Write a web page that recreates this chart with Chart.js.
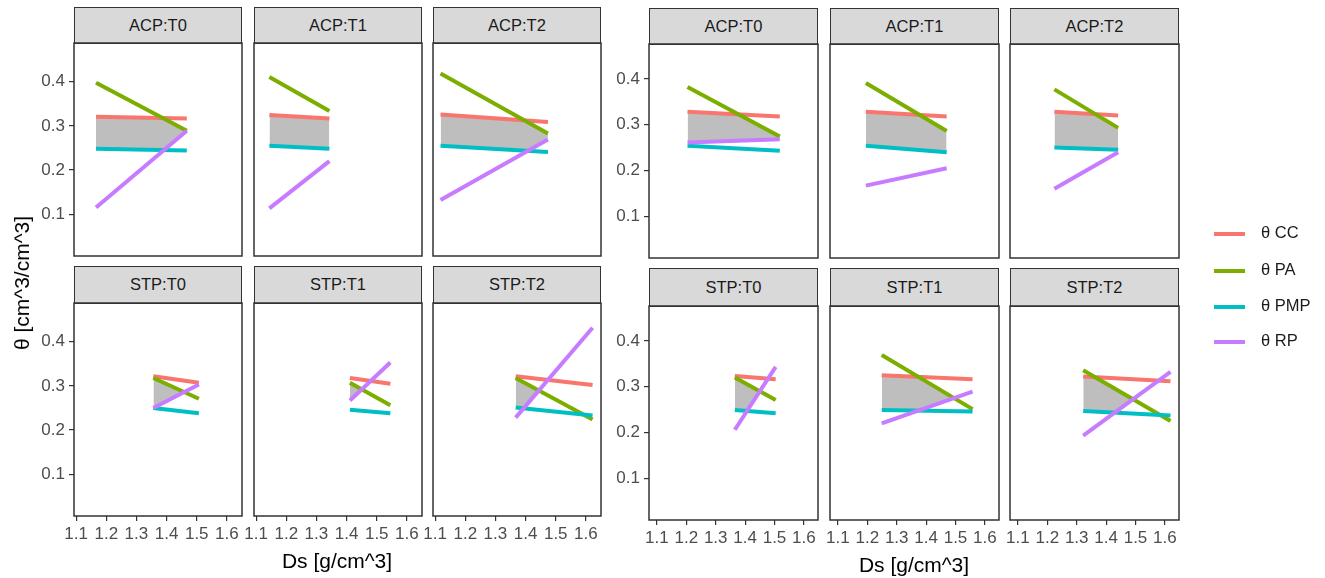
<!DOCTYPE html>
<html>
<head>
<meta charset="utf-8">
<script src="https://cdn.jsdelivr.net/npm/chart.js@4.4.1/dist/chart.umd.min.js"></script>
<style>
    body { margin: 0; background: #fff; font-family: "Liberation Sans", Arial, sans-serif; }
    #fig { position: relative; width: 1325px; height: 578px; overflow: hidden; }
    .strip { position: absolute; box-sizing: border-box; background: #d9d9d9; border: 1.5px solid #333;
             color: #1a1a1a; font-size: 16.5px; text-align: center; }
    canvas { position: absolute; }
    .axtitle { position: absolute; font-size: 21px; color: #000; white-space: nowrap; transform: translate(-50%, -50%); }
    .key { position: absolute; left: 1214px; font-size: 16.5px; color: #1a1a1a; white-space: nowrap; }
    .key span { display: inline-block; width: 31px; height: 4px; vertical-align: middle; margin-right: 16px; }
</style>
</head>
<body>
<div id="fig"></div>
<script>
// facets and series
var facets = ['ACP:T0', 'ACP:T1', 'ACP:T2', 'STP:T0', 'STP:T1', 'STP:T2'];
var seriesNames = ['θ CC', 'θ PA', 'θ PMP', 'θ RP'];
var seriesColors = ['#F8766D', '#7CAE00', '#00BFC4', '#C77CFF'];
var xTicks = [1.1, 1.2, 1.3, 1.4, 1.5, 1.6];
var yTicks = [0.1, 0.2, 0.3, 0.4];

// left block: Ds range of each facet and [start, end] theta of each series
var dsFromL = [1.166, 1.144, 1.118, 1.356, 1.411, 1.367];
var dsToL   = [1.467, 1.343, 1.474, 1.507, 1.545, 1.622];
var ccL  = [[0.321, 0.317], [0.325, 0.317], [0.326, 0.309], [0.322, 0.307], [0.318, 0.305], [0.322, 0.302]];
var paL  = [[0.398, 0.289], [0.411, 0.334], [0.419, 0.283], [0.318, 0.271], [0.307, 0.256], [0.318, 0.224]];
var pmpL = [[0.248, 0.244], [0.255, 0.248], [0.255, 0.241], [0.250, 0.238], [0.246, 0.238], [0.251, 0.233]];
var rpL  = [[0.115, 0.289], [0.113, 0.220], [0.132, 0.269], [0.250, 0.303], [0.267, 0.353], [0.228, 0.432]];

// right block
var dsFromR = [1.204, 1.195, 1.224, 1.365, 1.249, 1.322];
var dsToR   = [1.518, 1.470, 1.441, 1.504, 1.558, 1.619];
var ccR  = [[0.328, 0.318], [0.328, 0.318], [0.328, 0.320], [0.323, 0.316], [0.325, 0.316], [0.322, 0.312]];
var paR  = [[0.382, 0.274], [0.391, 0.286], [0.377, 0.293], [0.320, 0.271], [0.369, 0.251], [0.336, 0.225]];
var pmpR = [[0.254, 0.243], [0.254, 0.240], [0.250, 0.245], [0.249, 0.242], [0.249, 0.246], [0.247, 0.237]];
var rpR  = [[0.261, 0.268], [0.167, 0.205], [0.160, 0.240], [0.206, 0.343], [0.220, 0.289], [0.193, 0.332]];

var blocks = [
    {from: dsFromL, to: dsToL, cc: ccL, pa: paL, pmp: pmpL, rp: rpL, xMin: 1.093, xMax: 1.650, yMin: 0.005, yMax: 0.488,
     cols: [74, 254, 433], width: 168, strip: [7, 266], top: [43, 303], bottom: [256, 514]},
    {from: dsFromR, to: dsToR, cc: ccR, pa: paR, pmp: pmpR, rp: rpR, xMin: 1.073, xMax: 1.648, yMin: 0.009, yMax: 0.476,
     cols: [649, 830, 1010], width: 169, strip: [8, 268], top: [44, 306], bottom: [258, 518]}
];

var fig = document.getElementById('fig');
var SIDE = 55, AXH = 45, PAD = 2;

var panelBorder = {
    id: 'panelBorder',
    afterDraw: function (chart) {
        var a = chart.chartArea, c = chart.ctx;
        c.save();
        c.strokeStyle = '#333';
        c.lineWidth = 1.5;
        c.strokeRect(a.left, a.top, a.right - a.left, a.bottom - a.top);
        c.restore();
    }
};

function at(pair, t) {
    return pair[0] + (pair[1] - pair[0]) * t;
}

// least limiting range: between max(PMP, RP) and min(CC, PA)
function ribbon(x0, x1, cc, pa, pmp, rp) {
    var lines = [cc, pa, pmp, rp];
    var ts = [0, 1];
    for (var i = 0; i < 4; i++) {
        for (var j = i + 1; j < 4; j++) {
            var d0 = lines[i][0] - lines[j][0], d1 = lines[i][1] - lines[j][1];
            if (d0 * d1 < 0) ts.push(d0 / (d0 - d1));
        }
    }
    ts.sort(function (a, b) { return a - b; });
    var upper = [], lower = [];
    ts.forEach(function (t) {
        var x = x0 + (x1 - x0) * t;
        upper.push({x: x, y: Math.min(at(cc, t), at(pa, t))});
        lower.push({x: x, y: Math.max(at(pmp, t), at(rp, t))});
    });
    return {upper: upper, lower: lower};
}

function seg(x0, x1, pair) {
    return [{x: x0, y: pair[0]}, {x: x1, y: pair[1]}];
}

function makePanel(b, k) {
    var col = k % 3, row = Math.floor(k / 3);
    var left = b.cols[col], w = b.width;
    var top = b.top[row], h = b.bottom[row] - b.top[row];

    var strip = document.createElement('div');
    strip.className = 'strip';
    strip.style.left = left + 'px';
    strip.style.top = b.strip[row] + 'px';
    strip.style.width = w + 'px';
    strip.style.height = (top - b.strip[row] + 1) + 'px';
    strip.style.lineHeight = (top - b.strip[row] - 2) + 'px';
    strip.textContent = facets[k];
    fig.appendChild(strip);

    var cv = document.createElement('canvas');
    var cw = w + 2 * SIDE, ch = h + 2 * PAD + (row === 1 ? AXH : 0);
    cv.width = cw; cv.height = ch;
    cv.style.left = (left - SIDE) + 'px';
    cv.style.top = (top - PAD) + 'px';
    fig.appendChild(cv);

    var x0 = b.from[k], x1 = b.to[k];
    var rib = ribbon(x0, x1, b.cc[k], b.pa[k], b.pmp[k], b.rp[k]);
    var vals = [b.cc[k], b.pa[k], b.pmp[k], b.rp[k]];

    var datasets = [
        {data: rib.upper, borderWidth: 0, pointRadius: 0, order: 10,
         fill: {target: 1, above: '#bebebe', below: 'rgba(0,0,0,0)'}},
        {data: rib.lower, borderWidth: 0, pointRadius: 0, order: 11, fill: false}
    ];
    for (var s = 0; s < 4; s++) {
        datasets.push({
            label: seriesNames[s],
            data: seg(x0, x1, vals[s]),
            borderColor: seriesColors[s],
            borderWidth: 4,
            pointRadius: 0,
            fill: false,
            order: 4 - s
        });
    }

    var tickFont = {family: '"Liberation Sans", Arial, sans-serif', size: 17};
    new Chart(cv, {
        type: 'line',
        data: {datasets: datasets},
        options: {
            responsive: false,
            animation: false,
            devicePixelRatio: 1,
            events: [],
            layout: {padding: {left: col === 0 ? 0 : SIDE, right: SIDE, top: PAD, bottom: row === 1 ? 0 : PAD}},
            plugins: {legend: {display: false}, tooltip: {enabled: false}, filler: {drawTime: 'beforeDatasetsDraw'}},
            scales: {
                x: {
                    type: 'linear', bounds: 'data', min: b.xMin, max: b.xMax,
                    display: row === 1,
                    border: {display: false},
                    grid: {drawOnChartArea: false, drawTicks: true, tickLength: 5, color: '#333', lineWidth: 1.2},
                    ticks: {color: '#4d4d4d', font: tickFont, padding: 3, maxRotation: 0, autoSkip: false,
                            callback: function (v) { return v.toFixed(1); }},
                    afterBuildTicks: function (sc) { sc.ticks = xTicks.map(function (v) { return {value: v}; }); },
                    afterFit: function (sc) {
                        if (!sc.options.display) return;
                        sc.height = AXH; sc.paddingLeft = 0; sc.paddingRight = 0;
                    }
                },
                y: {
                    type: 'linear', bounds: 'data', min: b.yMin, max: b.yMax,
                    display: col === 0,
                    border: {display: false},
                    grid: {drawOnChartArea: false, drawTicks: true, tickLength: 5, color: '#333', lineWidth: 1.2},
                    ticks: {color: '#4d4d4d', font: tickFont, padding: 4,
                            callback: function (v) { return v.toFixed(1); }},
                    afterBuildTicks: function (sc) { sc.ticks = yTicks.map(function (v) { return {value: v}; }); },
                    afterFit: function (sc) {
                        if (!sc.options.display) return;
                        sc.width = SIDE; sc.paddingTop = 0; sc.paddingBottom = 0;
                    }
                }
            }
        },
        plugins: [panelBorder]
    });
}

blocks.forEach(function (b) {
    for (var k = 0; k < facets.length; k++) makePanel(b, k);
});

function addText(cls, txt, x, y, rot) {
    var d = document.createElement('div');
    d.className = cls;
    d.textContent = txt;
    d.style.left = x + 'px';
    d.style.top = y + 'px';
    if (rot) d.style.transform = 'translate(-50%, -50%) rotate(-90deg)';
    fig.appendChild(d);
}
addText('axtitle', 'θ [cm^3/cm^3]', 22, 283, true);
addText('axtitle', 'Ds [g/cm^3]', 337, 561);
addText('axtitle', 'Ds [g/cm^3]', 914, 565);

var keyY = [233, 270, 306, 341];
seriesNames.forEach(function (n, i) {
    var d = document.createElement('div');
    d.className = 'key';
    d.style.top = (keyY[i] - 10) + 'px';
    d.innerHTML = '<span style="background:' + seriesColors[i] + '"></span>' + n;
    fig.appendChild(d);
});
</script>
</body>
</html>
